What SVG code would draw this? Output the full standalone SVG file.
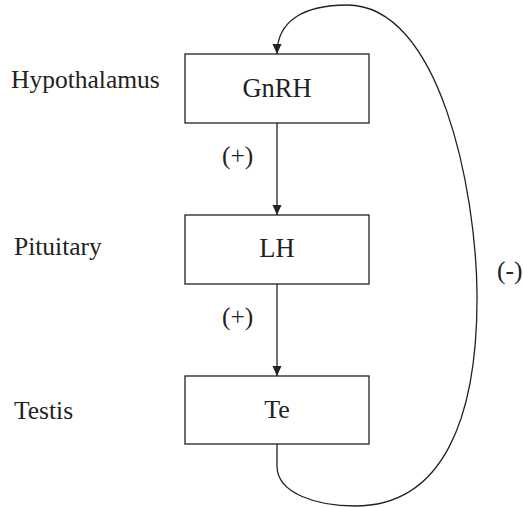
<svg xmlns="http://www.w3.org/2000/svg" width="523" height="507" viewBox="0 0 523 507">
<style>
.box{fill:#fff;stroke:#222;stroke-width:1.3}
.t{font-family:"Liberation Serif","Times New Roman",serif;font-size:25.5px;fill:#222}
.c{text-anchor:middle}
.ln{fill:none;stroke:#222;stroke-width:1.3}
</style>
<defs>
<marker id="ah" markerWidth="10" markerHeight="12" refX="10" refY="4.5" orient="auto" markerUnits="userSpaceOnUse">
<path d="M0,0 L10,4.5 L0,9 Z" fill="#222"/>
</marker>
</defs>
<rect width="523" height="507" fill="#fff"/>
<g id="connectors">
<path class="ln" d="M277,123 V215" marker-end="url(#ah)"/>
<path class="ln" d="M277,284 V376" marker-end="url(#ah)"/>
<path class="ln" d="M277,444 V466 C277,494 318,506 355,506 C442,506 478,420 477,293 C476,190 440,5 347,5 C305,5 277,20 277,54" marker-end="url(#ah)"/>
<text class="t" x="222" y="164">(+)</text>
<text class="t" x="222" y="325">(+)</text>
<text class="t" x="497" y="279">(-)</text>
</g>
<g id="gnrh">
<rect class="box" x="185" y="54" width="184" height="69"/>
<text class="t c" x="277" y="97" style="font-size:26.5px">GnRH</text>
</g>
<g id="lh">
<rect class="box" x="185" y="215" width="184" height="69"/>
<text class="t c" x="277" y="257" style="font-size:26.5px">LH</text>
</g>
<g id="te">
<rect class="box" x="185" y="376" width="184" height="68"/>
<text class="t c" x="277" y="418" style="font-size:26px">Te</text>
</g>
<g id="labels">
<text class="t" x="11" y="88">Hypothalamus</text>
<text class="t" x="14" y="255">Pituitary</text>
<text class="t" x="14" y="419">Testis</text>
</g>
</svg>
